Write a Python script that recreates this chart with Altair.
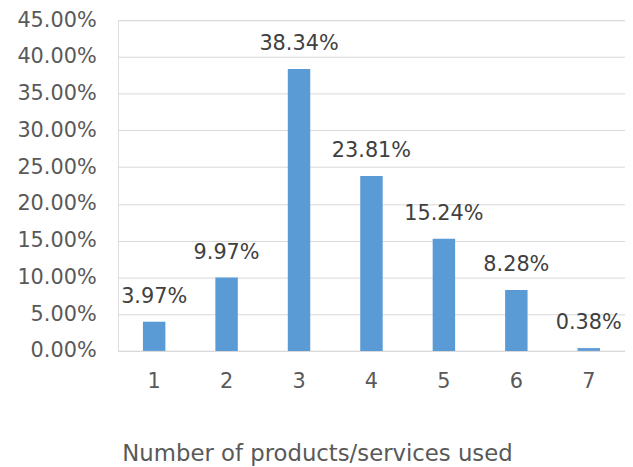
import altair as alt
import pandas as pd

categories = ["1", "2", "3", "4", "5", "6", "7"]
shares = [0.0397, 0.0997, 0.3834, 0.2381, 0.1524, 0.0828, 0.0038]
y_ticks = [0, 0.05, 0.10, 0.15, 0.20, 0.25, 0.30, 0.35, 0.40, 0.45]

df = pd.DataFrame({"n": categories, "share": shares})
df["label"] = [f"{v*100:.2f}%" for v in shares]

FONT = "DejaVu Sans"

x = alt.X(
    "n:N",
    sort=categories,
    scale=alt.Scale(paddingInner=0.69, paddingOuter=0.345),
    axis=alt.Axis(
        title="Number of products/services used",
        labelAngle=0,
        labelFontSize=21,
        labelColor="#595959",
        labelFont=FONT,
        labelPadding=20,
        ticks=False,
        tickSize=0,
        domainColor="#D9D9D9",
        domainWidth=1,
        titleFont=FONT,
        titleFontSize=23,
        titleFontWeight="normal",
        titleColor="#595959",
        titlePadding=52,
        titleX=201,
        titleAlign="center",
        grid=False,
    ),
)
y = alt.Y(
    "share:Q",
    scale=alt.Scale(domain=[0, 0.45], nice=False),
    axis=alt.Axis(
        title=None,
        values=y_ticks,
        format=".2%",
        labelFontSize=21,
        labelColor="#595959",
        labelFont=FONT,
        labelPadding=22,
        labelOverlap=False,
        ticks=False,
        tickSize=0,
        domain=False,
        grid=True,
        gridColor="#D9D9D9",
        gridWidth=1,
    ),
)

bars = alt.Chart(df).mark_bar(color="#5B9BD5").encode(x=x, y=y)
labels = alt.Chart(df).mark_text(
    baseline="alphabetic", dy=-19, fontSize=21, font=FONT, color="#404040"
).encode(x=x, y=y, text="label:N")

chart = (
    alt.layer(bars, labels)
    .properties(
        width=512,
        height=334,
        autosize=alt.AutoSizeParams(type="none"),
        padding={"left": 111, "top": 10, "right": 0, "bottom": 115},
    )
    .configure_view(strokeWidth=0)
    .configure(background="white")
)

chart.save("out.html", embed_options={"renderer": "svg", "actions": False})
